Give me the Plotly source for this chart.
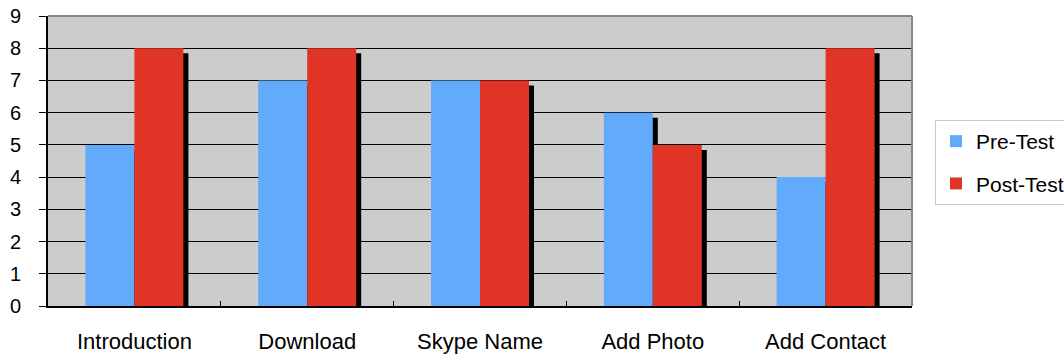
import plotly.graph_objects as go

categories = ["Introduction", "Download", "Skype Name", "Add Photo", "Add Contact"]
pre_test = [5, 7, 7, 6, 4]
post_test = [8, 8, 7, 5, 8]
y_ticks = list(range(0, 10))

W, H = 1064, 356
L, R, T, B = 48, 152, 16, 50
plot_w = W - L - R
plot_h = H - T - B
px_x = len(categories) / plot_w          # category units per pixel
px_y = 9 / plot_h                        # value units per pixel

bar_w = 49 * px_x
sh_dx = 5 * px_x
sh_dy = 5 * px_y

PRE = "#62ABFA"
POST = "#E03426"

fig = go.Figure()

# drop shadows, drawn first so the bars sit on top
for vals, off in ((pre_test, -bar_w), (post_test, 0.0)):
    fig.add_trace(go.Bar(
        x=categories, y=vals, base=[-sh_dy] * len(vals),
        offset=off + sh_dx, width=bar_w,
        marker=dict(color="black", line=dict(width=0)),
        showlegend=False, hoverinfo="skip", cliponaxis=False,
    ))

fig.add_trace(go.Bar(
    x=categories, y=pre_test, name="Pre-Test", offset=-bar_w, width=bar_w,
    marker=dict(color=PRE, line=dict(width=0)), legendgroup="pre",
))
fig.add_trace(go.Bar(
    x=categories, y=post_test, name="Post-Test", offset=0.0, width=bar_w,
    marker=dict(color=POST, line=dict(width=0)), legendgroup="post",
))

font = "Liberation Sans, Arial, sans-serif"

fig.update_layout(
    width=W, height=H,
    margin=dict(l=L, r=R, t=T, b=B, pad=0, autoexpand=False),
    barmode="overlay",
    paper_bgcolor="white",
    plot_bgcolor="#CCCCCC",
    font=dict(family=font, color="black"),
    legend=dict(
        xref="container", yref="container",
        x=935 / W, xanchor="left",
        y=1 - 120 / H, yanchor="top",
        bordercolor="#C8C8C8", borderwidth=1, bgcolor="white",
        font=dict(size=21, family=font),
        traceorder="grouped", tracegroupgap=12,
        itemwidth=30,
    ),
    xaxis=dict(
        type="category", range=[-0.5, 4.5], automargin=False,
        showline=True, linecolor="black", linewidth=2,
        ticks="inside", ticklen=5, tickcolor="black", tickwidth=1,
        tickson="boundaries",
        tickfont=dict(size=22, family=font),
        ticklabelstandoff=15,
        showgrid=False, zeroline=False,
    ),
    yaxis=dict(
        range=[0, 9], tickvals=y_ticks, automargin=False,
        showline=True, linecolor="black", linewidth=2,
        ticks="outside", ticklen=7, tickcolor="black", tickwidth=1,
        tickfont=dict(size=20, family=font),
        ticklabelstandoff=14,
        showgrid=True, gridcolor="black", gridwidth=1,
        zeroline=False,
    ),
    shapes=[
        dict(type="line", xref="paper", yref="paper", x0=0, x1=1, y0=1, y1=1,
             line=dict(color="#888888", width=2), layer="above"),
        dict(type="line", xref="paper", yref="paper", x0=1, x1=1, y0=0, y1=1,
             line=dict(color="#888888", width=2), layer="above"),
    ],
)

fig.write_html("out.html")
